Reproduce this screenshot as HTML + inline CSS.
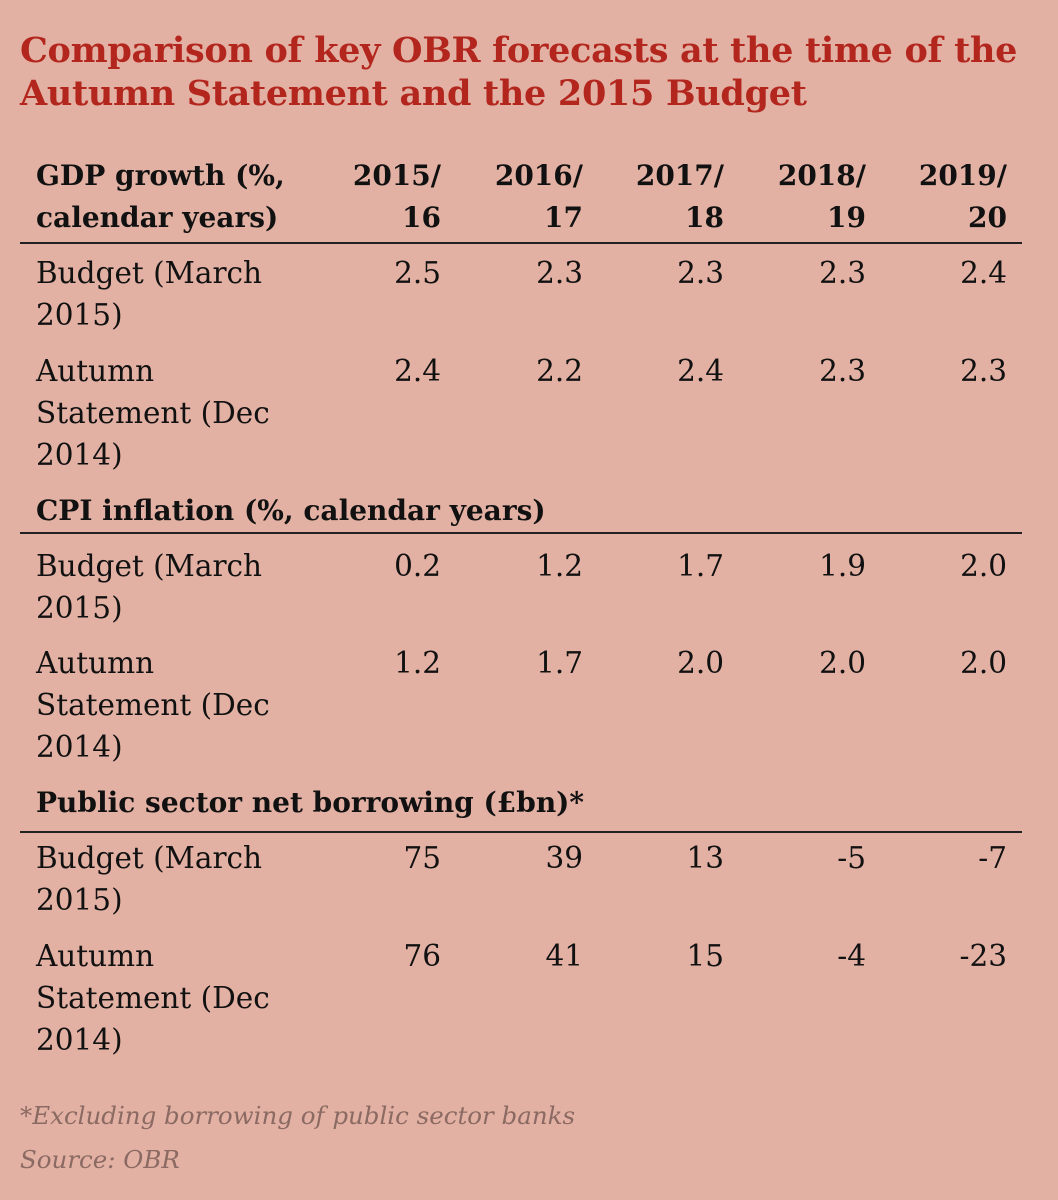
<!DOCTYPE html>
<html><head><meta charset="utf-8"><style>
html,body{margin:0;padding:0}
body{width:1058px;height:1200px;background:#e3b1a3;position:relative;overflow:hidden;font-family:"DejaVu Serif","Liberation Serif",serif;color:#111}
.t{position:absolute;left:20px;color:#b3261e;font-weight:bold;font-size:35px;line-height:43px;white-space:nowrap;letter-spacing:-0.3px}
.l{position:absolute;left:36px;font-size:29.5px;line-height:42px;white-space:nowrap}
.b{font-weight:bold;font-size:28px}
.n{position:absolute;font-size:29.5px;line-height:42px;text-align:right;width:120px;white-space:nowrap}
.n.b{font-size:28px}
.r{position:absolute;left:20px;width:1002px;height:2px;background:#222}
.f{position:absolute;left:20px;font-style:italic;font-size:24.5px;color:#8a6a62;line-height:40px;white-space:nowrap}
</style></head><body>
<div class="t" style="top:29px">Comparison of key OBR forecasts at the time of the</div>
<div class="t" style="top:72px">Autumn Statement and the 2015 Budget</div>

<div class="l b" style="top:155px">GDP growth (%,<br>calendar years)</div>
<div class="n b" style="left:321px;top:155px">2015/<br>16</div>
<div class="n b" style="left:463px;top:155px">2016/<br>17</div>
<div class="n b" style="left:604px;top:155px">2017/<br>18</div>
<div class="n b" style="left:746px;top:155px">2018/<br>19</div>
<div class="n b" style="left:887px;top:155px">2019/<br>20</div>
<div class="r" style="top:242px"></div>

<div class="l" style="top:252px">Budget (March<br>2015)</div>
<div class="n" style="left:321px;top:252px">2.5</div><div class="n" style="left:463px;top:252px">2.3</div><div class="n" style="left:604px;top:252px">2.3</div><div class="n" style="left:746px;top:252px">2.3</div><div class="n" style="left:887px;top:252px">2.4</div>
<div class="l" style="top:350px">Autumn<br>Statement (Dec<br>2014)</div>
<div class="n" style="left:321px;top:350px">2.4</div><div class="n" style="left:463px;top:350px">2.2</div><div class="n" style="left:604px;top:350px">2.4</div><div class="n" style="left:746px;top:350px">2.3</div><div class="n" style="left:887px;top:350px">2.3</div>

<div class="l b" style="top:490px">CPI inflation (%, calendar years)</div>
<div class="r" style="top:532px"></div>
<div class="l" style="top:545px">Budget (March<br>2015)</div>
<div class="n" style="left:321px;top:545px">0.2</div><div class="n" style="left:463px;top:545px">1.2</div><div class="n" style="left:604px;top:545px">1.7</div><div class="n" style="left:746px;top:545px">1.9</div><div class="n" style="left:887px;top:545px">2.0</div>
<div class="l" style="top:642px">Autumn<br>Statement (Dec<br>2014)</div>
<div class="n" style="left:321px;top:642px">1.2</div><div class="n" style="left:463px;top:642px">1.7</div><div class="n" style="left:604px;top:642px">2.0</div><div class="n" style="left:746px;top:642px">2.0</div><div class="n" style="left:887px;top:642px">2.0</div>

<div class="l b" style="top:782px">Public sector net borrowing (£bn)*</div>
<div class="r" style="top:831px"></div>
<div class="l" style="top:837px">Budget (March<br>2015)</div>
<div class="n" style="left:321px;top:837px">75</div><div class="n" style="left:463px;top:837px">39</div><div class="n" style="left:604px;top:837px">13</div><div class="n" style="left:746px;top:837px">-5</div><div class="n" style="left:887px;top:837px">-7</div>
<div class="l" style="top:935px">Autumn<br>Statement (Dec<br>2014)</div>
<div class="n" style="left:321px;top:935px">76</div><div class="n" style="left:463px;top:935px">41</div><div class="n" style="left:604px;top:935px">15</div><div class="n" style="left:746px;top:935px">-4</div><div class="n" style="left:887px;top:935px">-23</div>

<div class="f" style="top:1096px">*Excluding borrowing of public sector banks</div>
<div class="f" style="top:1140px">Source: OBR</div>
</body></html>
